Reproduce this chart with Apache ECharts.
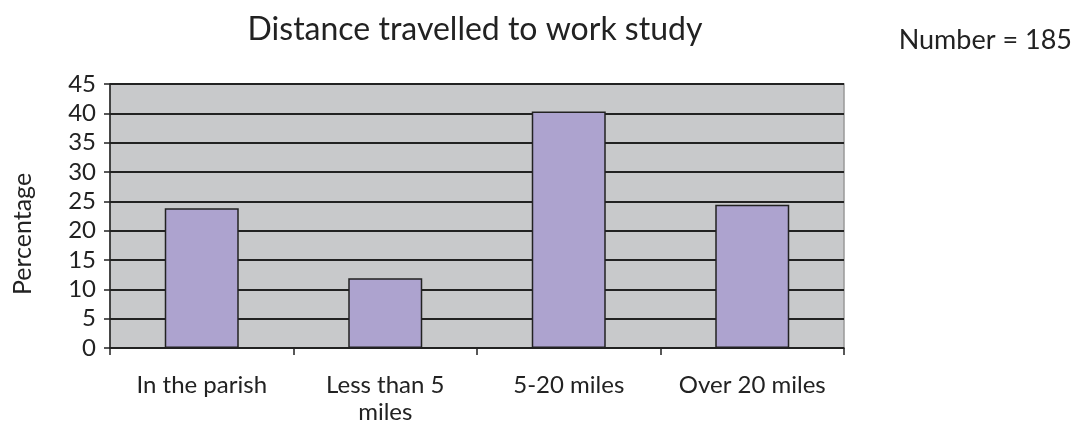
<!DOCTYPE html>
<html><head><meta charset="utf-8">
<script src="https://cdn.jsdelivr.net/npm/echarts@6/dist/echarts.min.js"></script>
<style>html,body{margin:0;padding:0;background:#fff}#c{width:1080px;height:426px}</style>
</head><body><div id="c"></div>
<script>
const categories = ["In the parish", "Less than 5\nmiles", "5-20 miles", "Over 20 miles"];
const percentages = [23.8, 11.9, 40.3, 24.4];
const yTicks = { min: 0, max: 45, interval: 5 };
const titleText = "Distance travelled to work study";
const noteText = "Number = 185";
const yAxisName = "Percentage";

const font = "Lato, 'Open Sans', sans-serif";
const chart = echarts.init(document.getElementById('c'));
chart.setOption({
  animation: false,
  backgroundColor: '#fff',
  title: [
    { text: titleText, left: 470, top: 9, textAlign: 'center',
      textStyle: { fontFamily: font, fontSize: 32, fontWeight: 'normal', color: '#222' } },
    { text: noteText, right: 3, top: 22,
      textStyle: { fontFamily: font, fontSize: 27, fontWeight: 'normal', color: '#222' } }
  ],
  graphic: [{
    type: 'text', x: 23, y: 234, rotation: Math.PI / 2,
    style: { text: yAxisName, fontFamily: font, fontSize: 25, fill: '#222',
      textAlign: 'center', textVerticalAlign: 'middle' }
  }],
  grid: { left: 110, right: 236, top: 84, bottom: 77, show: true,
    backgroundColor: '#c8c9cb', borderColor: '#999', borderWidth: 1.5 },
  xAxis: {
    type: 'category', data: categories,
    axisLine: { lineStyle: { color: '#222', width: 1.5 } },
    axisTick: { show: true, interval: 0, length: 7, alignWithLabel: false, lineStyle: { color: '#222', width: 1.5 } },
    axisLabel: { interval: 0, fontFamily: font, fontSize: 24, color: '#222', margin: 24, lineHeight: 27 }
  },
  yAxis: {
    type: 'value', min: yTicks.min, max: yTicks.max, interval: yTicks.interval,
    axisLine: { show: true, lineStyle: { color: '#222', width: 1.5 } },
    axisTick: { show: true, length: 6, lineStyle: { color: '#222', width: 1.5 } },
    axisLabel: { fontFamily: font, fontSize: 24, color: '#222', margin: 14 },
    splitLine: { show: true, lineStyle: { color: '#222', width: 1.8 } }
  },
  series: [{
    type: 'bar', data: percentages, barWidth: 74,
    itemStyle: { color: '#ada3cf', borderColor: '#222', borderWidth: 1.5 }
  }]
});
</script></body></html>
